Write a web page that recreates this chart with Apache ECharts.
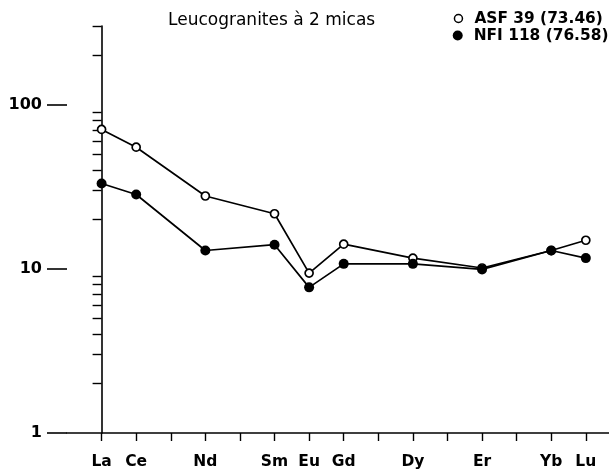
<!DOCTYPE html>
<html>
<head>
<meta charset="utf-8">
<script src="https://cdn.jsdelivr.net/npm/echarts@6/dist/echarts.min.js"></script>
<style>html,body{margin:0;padding:0;background:#fff}#c{width:609px;height:473px}</style>
</head>
<body>
<div id="c"></div>
<script>
// Full REE sequence (axis positions), measured elements and their values
var reeSequence = ['La','Ce','Pr','Nd','Pm','Sm','Eu','Gd','Tb','Dy','Ho','Er','Tm','Yb','Lu'];
var elements = ['La','Ce','Nd','Sm','Eu','Gd','Dy','Er','Yb','Lu'];
var asf39 = [70.4, 54.9, 27.7, 21.6, 9.4, 14.1, 11.6, 10.1, 12.9, 14.9];
var nfi118 = [33.0, 28.3, 12.9, 14.0, 7.7, 10.7, 10.7, 9.9, 12.9, 11.6];
var yMajorTicks = [1, 10, 100];
var yMinorTicks = [2,3,4,5,6,7,8,9,20,30,40,50,60,70,80,90,200,300];
var titleText = 'Leucogranites à 2 micas';
var seriesNames = ['ASF 39 (73.46)', 'NFI 118 (76.58)'];

function pairs(vals) {
  return elements.map(function (el, i) { return [reeSequence.indexOf(el), vals[i]]; });
}
var labelIdx = elements.map(function (el) { return reeSequence.indexOf(el); });
var tickIdx = reeSequence.map(function (el, i) { return i; });

var FONT = 'DejaVu Sans';
var chart = echarts.init(document.getElementById('c'), null, {renderer: 'canvas'});
chart.setOption({
  animation: false,
  backgroundColor: '#fff',
  title: {
    text: titleText, left: 168, top: 12, padding: 0,
    textStyle: {fontFamily: FONT, fontSize: 17, fontWeight: 'normal', color: '#000'}
  },
  legend: [
    {
      orient: 'vertical', left: 453.7, top: 11, padding: 0, itemWidth: 8, itemHeight: 8,
      data: [{name: seriesNames[0], icon: 'circle', itemStyle: {color: '#fff', borderColor: '#000', borderWidth: 1.5}}],
      textStyle: {fontFamily: FONT, fontSize: 15.4, fontWeight: 'bold', color: '#000', padding: [0,0,0,7]},
      selectedMode: false
    },
    {
      orient: 'vertical', left: 452.7, top: 28, padding: 0, itemWidth: 10, itemHeight: 10,
      data: [{name: seriesNames[1], icon: 'circle', itemStyle: {color: '#000', borderColor: '#000', borderWidth: 0}}],
      textStyle: {fontFamily: FONT, fontSize: 15.4, fontWeight: 'bold', color: '#000', padding: [0,0,0,6]},
      selectedMode: false
    }
  ],
  grid: {left: 67, right: 0, top: 26, bottom: 40, containLabel: false},
  xAxis: {
    type: 'value', min: -1, max: 14.67,
    axisLine: {show: true, lineStyle: {color: '#000', width: 1.6}},
    axisTick: {show: true, customValues: tickIdx, length: 8, lineStyle: {color: '#000', width: 1.4}},
    axisLabel: {
      show: true, customValues: labelIdx, margin: 21,
      formatter: function (v) { return reeSequence[Math.round(v)] || ''; },
      fontFamily: FONT, fontSize: 15.5, fontWeight: 'bold', color: '#000'
    },
    splitLine: {show: false}
  },
  yAxis: [
    {
      type: 'log', logBase: 10, min: 1, max: 300,
      axisLine: {show: true, lineStyle: {color: '#000', width: 1.6}},
      axisTick: {show: true, customValues: yMinorTicks, length: 9, lineStyle: {color: '#000', width: 1.4}},
      axisLabel: {show: false},
      splitLine: {show: false}, minorTick: {show: false}
    },
    {
      type: 'log', logBase: 10, min: 1, max: 300, position: 'left',
      axisLine: {show: false},
      axisTick: {show: true, customValues: yMajorTicks, length: 20, lineStyle: {color: '#000', width: 1.6}},
      axisLabel: {show: true, customValues: yMajorTicks, margin: 25,
        fontFamily: FONT, fontSize: 16, fontWeight: 'bold', color: '#000'},
      splitLine: {show: false}
    }
  ],
  series: [
    {
      name: seriesNames[0], type: 'line', data: pairs(asf39), yAxisIndex: 0,
      symbol: 'circle', symbolSize: 8, z: 2,
      lineStyle: {color: '#000', width: 1.7},
      itemStyle: {color: '#fff', borderColor: '#000', borderWidth: 1.7},
      emphasis: {disabled: true}
    },
    {
      name: seriesNames[1], type: 'line', data: pairs(nfi118), yAxisIndex: 0,
      symbol: 'circle', symbolSize: 10, z: 3,
      lineStyle: {color: '#000', width: 1.7},
      itemStyle: {color: '#000', borderColor: '#000', borderWidth: 0},
      emphasis: {disabled: true}
    }
  ]
});
</script>
</body>
</html>
